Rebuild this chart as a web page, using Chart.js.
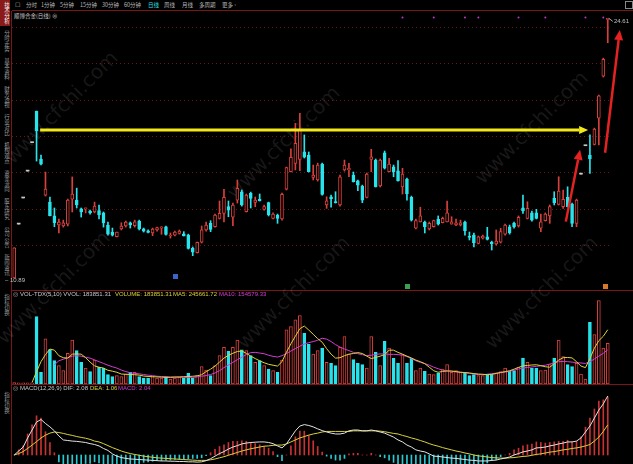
<!DOCTYPE html>
<html>
<head>
<meta charset="utf-8">
<script src="https://cdn.jsdelivr.net/npm/chart.js@4.4.1/dist/chart.umd.min.js"></script>
<style>
  body { margin: 0; background: #000; width: 633px; height: 464px; overflow: hidden; position: relative;
         font-family: "Noto Sans CJK SC", "Noto Sans", sans-serif; color: #b8b8b8; }
  canvas { position: absolute; }
  .t { position: absolute; white-space: nowrap; font-size: 5.5px; line-height: 10px; }
  .h { position: absolute; white-space: nowrap; font-size: 6px; line-height: 9px; font-family: "Liberation Sans", "Noto Sans", sans-serif; }
  .line { position: absolute; background: #7a1616; }
  .side { position: absolute; left: 0; width: 10px; font-size: 5.5px; line-height: 7px; text-align: center;
          writing-mode: vertical-rl; color: #9a9a9a; }
  .wm { position: absolute; font-family: "DejaVu Sans", sans-serif; font-size: 20px; line-height: 24px; color: rgba(255,255,255,0.10);
        transform: rotate(-45deg); transform-origin: left center; white-space: nowrap; }
  .mk { position: absolute; width: 5px; height: 5px; }
</style>
</head>
<body>

<!-- toolbar -->
<div class="t" style="left:15px;top:0px;">☐</div>
<div class="t" style="left:26px;top:0px;">分时</div>
<div class="t" style="left:41px;top:0px;">1分钟</div>
<div class="t" style="left:60px;top:0px;">5分钟</div>
<div class="t" style="left:80px;top:0px;">15分钟</div>
<div class="t" style="left:102px;top:0px;">30分钟</div>
<div class="t" style="left:124px;top:0px;">60分钟</div>
<div class="t" style="left:148px;top:0px;color:#2fe0e8;">日线</div>
<div class="t" style="left:164px;top:0px;">周线</div>
<div class="t" style="left:182px;top:0px;">月线</div>
<div class="t" style="left:199px;top:0px;">多周期</div>
<div class="t" style="left:222px;top:0px;">更多 ›</div>
<div class="line" style="left:12px;top:10px;width:621px;height:1px;"></div>
<div class="t" style="left:14px;top:11px;color:#c8c8c8;">顺博合金(日线) ⊗</div>
<div style="position:absolute;left:625px;top:1px;width:6px;height:6px;border:1px solid #888;"></div>

<!-- side tabs -->
<div class="side" style="top:0;height:26px;background:#8a1a1a;color:#eee;">技术分析</div>
<div class="side" style="top:28px;height:26px;">分时走势</div>
<div class="side" style="top:56px;height:26px;">基本资料</div>
<div class="side" style="top:84px;height:26px;">财务透视</div>
<div class="side" style="top:112px;height:26px;">行业对比</div>
<div class="side" style="top:140px;height:26px;">机构观点</div>
<div class="side" style="top:168px;height:26px;">资金流向</div>
<div class="side" style="top:196px;height:26px;">股东研究</div>
<div class="side" style="top:224px;height:26px;">公司公告</div>
<div class="side" style="top:252px;height:26px;">新闻资讯</div>
<div class="side" style="top:292px;height:26px;">指标切换</div>
<div class="side" style="top:390px;height:26px;">指标切换</div>

<!-- panel borders -->
<div class="line" style="left:11px;top:11px;width:1px;height:453px;"></div>
<div class="line" style="left:12px;top:290px;width:621px;height:1px;"></div>
<div class="line" style="left:12px;top:384px;width:621px;height:1px;"></div>

<!-- watermark -->
<div class="wm" style="left:8px;top:148px;">www.cfchi.com</div>
<div class="wm" style="left:230px;top:183px;">www.cfchi.com</div>
<div class="wm" style="left:478px;top:168px;">www.cfchi.com</div>
<div class="wm" style="left:0px;top:328px;">www.cfchi.com</div>
<div class="wm" style="left:240px;top:333px;">www.cfchi.com</div>
<div class="wm" style="left:488px;top:333px;">www.cfchi.com</div>

<canvas id="kline" width="620" height="268" style="left:12px;top:14px;"></canvas>
<canvas id="vol" width="598" height="88" style="left:12px;top:296px;"></canvas>
<canvas id="macd" width="598" height="72" style="left:12px;top:392px;"></canvas>

<!-- labels -->
<div class="h" style="left:5px;top:276px;color:#c0c0c0;">– 10.89</div>
<div class="h" style="left:614px;top:17px;color:#c0c0c0;">24.61</div>
<div class="mk" style="left:173px;top:274px;background:#3a64c8;"></div>
<div class="mk" style="left:405px;top:284px;background:#3aa050;"></div>
<div class="mk" style="left:603px;top:284px;background:#d8782a;"></div>

<div class="h" style="left:13px;top:290px;color:#aaa;">◎</div>
<div class="h" style="left:20px;top:290px;color:#c8c8c8;">VOL-TDX(5,10) VVOL: 183851.31</div>
<div class="h" style="left:115px;top:290px;color:#dcd43a;">VOLUME: 183851.31</div>
<div class="h" style="left:173px;top:290px;color:#dcd43a;">MA5: 245661.72</div>
<div class="h" style="left:219px;top:290px;color:#d83cd8;">MA10: 154579.33</div>

<div class="h" style="left:13px;top:384px;color:#aaa;">◎</div>
<div class="h" style="left:20px;top:384px;color:#c8c8c8;">MACD(12,26,9) DIF: 2.08</div>
<div class="h" style="left:90px;top:384px;color:#dcd43a;">DEA: 1.06</div>
<div class="h" style="left:118px;top:384px;color:#d83cd8;">MACD: 2.04</div>

<script>
// 日K线 (前5根为上市初期一字板)
const opens = [10.89, 13.74, 15.12, 16.54, 18.04,
  19.71, 17.18, 15.27, 14.90, 14.18, 13.69, 13.64, 13.74, 15.06, 15.01,
  14.54, 14.54, 14.43, 14.38, 14.45, 14.33, 13.69, 13.32, 13.07, 13.48,
  13.64, 13.80, 13.65, 13.90, 13.49, 13.39, 13.27, 13.43, 13.53, 13.60,
  13.11, 13.16, 13.25, 13.23, 13.16, 12.46, 12.23, 12.78, 13.43, 13.78,
  13.60, 14.04, 14.31, 14.66, 14.10, 15.01, 15.45, 14.39, 15.36, 14.89,
  15.05, 14.52, 14.87, 14.04, 14.22, 14.01, 15.58, 16.51, 16.95, 17.16,
  17.56, 17.39, 16.21, 16.07, 16.91, 14.75, 15.18, 14.92, 14.75, 16.60,
  16.60, 16.33, 16.02, 15.75, 15.15, 17.16, 17.12, 15.75, 17.51, 16.51,
  16.77, 16.56, 15.71, 16.12, 15.15, 13.52, 13.86, 13.85, 13.48, 13.60,
  13.99, 13.81, 13.86, 13.74, 13.69, 13.69, 13.85, 13.11, 13.16, 12.72,
  12.99, 13.07, 12.79, 12.69, 12.78, 13.21, 13.60, 13.78, 13.64, 14.60,
  14.04, 14.34, 14.34, 13.52, 13.92, 14.17, 15.10, 14.78, 14.66, 15.15,
  14.80, 13.78, 16.38, 17.88, 17.39, 17.95, 19.33, 21.56, 24.55];
const closes = [12.49, 13.74, 15.12, 16.54, 18.04,
  18.66, 16.91, 15.59, 14.18, 13.81, 13.85, 13.80, 15.01, 15.33, 14.75,
  14.38, 14.59, 14.33, 14.69, 14.23, 13.80, 13.21, 13.16, 13.32, 13.64,
  13.85, 13.69, 13.86, 13.48, 13.36, 13.30, 13.48, 13.55, 13.60, 13.20,
  13.16, 13.32, 13.37, 13.12, 12.46, 12.25, 12.78, 13.43, 13.69, 13.46,
  14.22, 14.31, 15.15, 14.48, 14.75, 15.63, 14.75, 15.27, 15.10, 15.01,
  14.97, 14.66, 14.22, 14.27, 14.04, 15.31, 16.72, 17.27, 18.01, 18.71,
  17.27, 16.51, 16.33, 16.86, 15.31, 14.97, 15.08, 14.87, 16.24, 16.86,
  16.69, 15.98, 15.80, 15.01, 16.38, 17.30, 15.71, 17.12, 16.69, 16.91,
  16.51, 16.03, 16.38, 15.33, 13.95, 13.92, 14.17, 13.60, 13.78, 13.92,
  13.74, 14.04, 14.34, 13.86, 13.81, 13.81, 13.39, 13.04, 12.75, 13.07,
  13.11, 12.93, 12.69, 12.84, 13.34, 13.69, 13.28, 13.60, 14.10, 14.43,
  14.57, 13.95, 14.04, 13.86, 14.27, 14.66, 14.87, 15.49, 15.05, 14.66,
  13.78, 15.01, 16.38, 17.88, 17.18, 18.76, 20.52, 22.44, 24.61];
const highs = [12.49, 13.74, 15.12, 16.54, 18.04,
  19.71, 17.39, 16.49, 15.17, 14.59, 14.01, 13.95, 15.06, 16.23, 15.64,
  14.59, 14.59, 14.48, 14.90, 14.75, 14.38, 13.85, 13.53, 13.32, 13.81,
  13.90, 13.85, 13.95, 13.95, 13.53, 13.43, 13.53, 13.58, 13.60, 13.64,
  13.27, 13.37, 13.43, 13.34, 13.21, 12.53, 12.79, 13.64, 13.85, 13.92,
  14.27, 14.96, 15.58, 14.96, 14.85, 16.07, 15.54, 15.33, 15.43, 15.17,
  15.33, 14.75, 14.90, 14.34, 14.27, 15.38, 16.75, 17.71, 19.06, 19.59,
  18.45, 17.55, 16.86, 16.96, 16.96, 15.18, 15.27, 15.45, 16.33, 17.12,
  16.95, 16.49, 16.07, 15.80, 16.44, 17.69, 17.18, 17.18, 17.60, 17.21,
  16.86, 17.09, 16.69, 16.17, 15.22, 14.01, 14.63, 13.90, 13.85, 13.95,
  14.17, 14.11, 14.96, 14.13, 14.01, 13.95, 13.90, 13.32, 13.27, 13.11,
  13.16, 13.57, 12.84, 13.43, 13.52, 13.74, 13.69, 13.85, 14.17, 15.27,
  14.92, 14.43, 14.52, 14.27, 14.33, 14.75, 15.45, 16.24, 15.54, 15.71,
  14.85, 15.06, 16.38, 17.88, 18.45, 18.81, 20.56, 22.51, 24.61];
const lows = [10.89, 13.74, 15.12, 16.54, 18.04,
  17.07, 16.86, 15.22, 14.17, 13.60, 13.27, 13.58, 13.64, 14.38, 14.59,
  14.11, 14.33, 14.27, 14.33, 14.01, 13.58, 13.16, 13.11, 13.06, 13.43,
  13.58, 13.53, 13.58, 13.43, 13.32, 13.27, 13.13, 13.37, 13.20, 13.16,
  13.00, 13.11, 13.21, 13.11, 12.42, 12.07, 12.21, 12.74, 13.37, 13.34,
  13.58, 14.01, 13.86, 14.13, 13.65, 14.85, 14.69, 14.38, 14.59, 14.66,
  14.96, 14.48, 14.17, 14.01, 13.78, 13.95, 15.54, 16.49, 16.60, 16.56,
  17.23, 16.49, 16.07, 16.01, 15.27, 14.57, 14.63, 14.85, 14.69, 16.54,
  16.24, 15.96, 15.50, 14.87, 15.12, 16.51, 15.70, 15.70, 16.65, 16.49,
  16.24, 16.01, 15.33, 15.01, 13.90, 13.48, 13.85, 13.27, 13.43, 13.58,
  13.69, 13.80, 13.85, 13.74, 13.66, 13.64, 13.16, 12.90, 12.53, 12.69,
  12.95, 12.90, 12.37, 12.63, 12.74, 13.16, 13.21, 13.53, 13.58, 14.31,
  14.01, 13.90, 14.01, 13.34, 13.90, 13.78, 14.75, 14.75, 14.57, 14.64,
  13.60, 13.60, 16.38, 17.88, 16.42, 17.92, 17.92, 21.51, 23.32];

// 成交量 (手)
const volumes = [6000, 5000, 5000, 5000, 5000,
  304700, 52500, 203800, 155300, 105500, 82900, 60200, 138600, 199200, 150800,
  97800, 72400, 55700, 108700, 75200, 72400, 42100, 33100, 37600, 33100,
  45300, 52500, 52500, 33100, 27200, 27200, 33100, 27200, 27200, 33100,
  22600, 27200, 29900, 27200, 48000, 27200, 37600, 78300, 63400, 37600,
  82900, 128100, 165700, 147600, 165700, 199200, 154000, 150800, 128100, 97800,
  105500, 82900, 67900, 60200, 52500, 108700, 244500, 259500, 289800, 309300,
  229100, 181100, 135800, 150800, 163000, 97800, 93300, 82900, 165700, 214200,
  135800, 110000, 93300, 87400, 72400, 214200, 143100, 82900, 192900, 163000,
  115900, 93300, 132700, 93300, 115900, 60200, 72400, 57100, 45300, 42100,
  48000, 67900, 87400, 52500, 60200, 52500, 48000, 37600, 42100, 37600,
  37600, 45300, 42100, 48000, 55700, 72400, 57100, 60200, 75200, 117700,
  97800, 72400, 72400, 60200, 63400, 87400, 117700, 199200, 123600, 87400,
  78300, 93300, 45300, 22600, 278900, 223200, 377200, 163000, 183851];
const volMa5 = [null, null, null, null, 7000,
  56000, 101000, 133000, 158000, 153000, 128000, 119000, 117000, 135000, 136000,
  135000, 119000, 99000, 82000, 76000, 72000, 62000, 58000, 53000, 45000,
  44000, 43000, 42000, 40000, 36000, 34000, 33000, 32000, 31000, 30000,
  30000, 31000, 32000, 33000, 34000, 35000, 37000, 42000, 56000, 67000,
  81000, 99000, 117000, 130000, 139000, 147000, 149000, 139000, 126000, 115000,
  105000, 96000, 89000, 85000, 81000, 101000, 144000, 182000, 216000, 250000,
  262000, 244000, 225000, 205000, 189000, 160000, 135000, 117000, 119000, 128000,
  135000, 138000, 142000, 138000, 126000, 115000, 120000, 126000, 133000, 153000,
  153000, 143000, 135000, 126000, 118000, 108000, 101000, 92000, 76000, 60000,
  53000, 57000, 59000, 59000, 56000, 53000, 52000, 50000, 47000, 45000,
  44000, 42000, 43000, 48000, 52000, 56000, 60000, 67000, 75000, 82000,
  84000, 86000, 87000, 83000, 78000, 76000, 92000, 108000, 119000, 120000,
  118000, 101000, 81000, 74000, 115000, 162000, 196000, 216000, 245662];
const volMa10 = [null, null, null, null, null, null, null, null, null,
  87000, 105000, 112000, 119000, 126000, 128000, 126000, 121000, 117000, 109000,
  101000, 93000, 85000, 78000, 72000, 63000, 56000, 51000, 48000, 46000,
  43000, 40000, 38000, 35000, 34000, 33000, 32000, 32000, 31000, 30000,
  30000, 30000, 32000, 35000, 38000, 43000, 50000, 60000, 74000, 86000,
  98000, 110000, 121000, 133000, 142000, 143000, 140000, 137000, 130000, 125000,
  122000, 128000, 138000, 149000, 160000, 171000, 181000, 187000, 192000, 198000,
  207000, 203000, 192000, 178000, 167000, 158000, 151000, 143000, 137000, 133000,
  128000, 130000, 134000, 136000, 136000, 134000, 134000, 133000, 130000, 124000,
  115000, 105000, 98000, 92000, 85000, 76000, 69000, 62000, 59000, 57000,
  55000, 53000, 51000, 48000, 45000, 43000, 42000, 44000, 47000, 49000,
  51000, 54000, 58000, 62000, 68000, 72000, 75000, 77000, 80000, 82000,
  85000, 90000, 95000, 101000, 102000, 101000, 99000, 97000, 95000, 93000,
  101000, 113000, 126000, 139000, 154579];

// MACD(12,26,9)
const dif = [0, 0.14, 0.28, 0.60, 0.88,
  1.16, 1.25, 1.11, 0.99, 0.85, 0.67, 0.53, 0.51, 0.49, 0.48,
  0.46, 0.44, 0.40, 0.37, 0.32, 0.23, 0.16, 0.04, -0.04, -0.09,
  -0.12, -0.14, -0.15, -0.16, -0.17, -0.18, -0.19, -0.20, -0.21, -0.21,
  -0.22, -0.22, -0.23, -0.23, -0.24, -0.24, -0.25, -0.24, -0.20, -0.13,
  -0.04, 0.05, 0.12, 0.21, 0.28, 0.33, 0.39, 0.42, 0.44, 0.45,
  0.46, 0.46, 0.44, 0.40, 0.32, 0.25, 0.39, 0.62, 0.85, 1.02,
  1.07, 1.04, 0.99, 0.92, 0.86, 0.81, 0.77, 0.74, 0.74, 0.77,
  0.85, 0.88, 0.88, 0.85, 0.85, 0.88, 0.85, 0.81, 0.77, 0.70,
  0.63, 0.53, 0.46, 0.35, 0.28, 0.18, 0.14, 0.11, 0.04, -0.04,
  -0.05, -0.07, -0.09, -0.11, -0.12, -0.14, -0.16, -0.18, -0.19, -0.21,
  -0.21, -0.21, -0.19, -0.18, -0.14, -0.11, -0.07, 0.00, 0.05, 0.11,
  0.14, 0.18, 0.25, 0.26, 0.28, 0.32, 0.35, 0.39, 0.42, 0.46,
  0.46, 0.49, 0.60, 0.81, 1.02, 1.30, 1.58, 1.80, 2.08];
const dea = [0, 0.05, 0.12, 0.23, 0.35,
  0.47, 0.60, 0.70, 0.77, 0.81, 0.79, 0.76, 0.72, 0.69, 0.65,
  0.62, 0.59, 0.55, 0.49, 0.46, 0.40, 0.33, 0.26, 0.20, 0.14,
  0.09, 0.05, 0.02, -0.01, -0.04, -0.06, -0.08, -0.10, -0.11, -0.12,
  -0.13, -0.14, -0.15, -0.16, -0.17, -0.18, -0.19, -0.19, -0.19, -0.17,
  -0.14, -0.10, -0.06, -0.01, 0.04, 0.09, 0.14, 0.18, 0.22, 0.25,
  0.28, 0.31, 0.32, 0.34, 0.35, 0.35, 0.39, 0.46, 0.53, 0.60,
  0.65, 0.70, 0.74, 0.77, 0.81, 0.83, 0.83, 0.83, 0.83, 0.83,
  0.83, 0.85, 0.85, 0.85, 0.85, 0.85, 0.85, 0.84, 0.82, 0.79,
  0.76, 0.74, 0.69, 0.65, 0.60, 0.56, 0.51, 0.46, 0.40, 0.35,
  0.31, 0.26, 0.22, 0.18, 0.14, 0.11, 0.07, 0.04, 0.00, -0.03,
  -0.05, -0.07, -0.09, -0.10, -0.11, -0.11, -0.10, -0.09, -0.07, -0.05,
  -0.04, -0.01, 0.02, 0.04, 0.07, 0.10, 0.12, 0.15, 0.18, 0.20,
  0.23, 0.25, 0.28, 0.32, 0.37, 0.49, 0.63, 0.83, 1.06];
const macdHist = [0, 0.18, 0.32, 0.74, 1.06,
  1.38, 1.30, 0.82, 0.44, 0.08, -0.24, -0.46, -0.42, -0.40, -0.34,
  -0.32, -0.30, -0.30, -0.24, -0.28, -0.34, -0.34, -0.44, -0.48, -0.46,
  -0.42, -0.38, -0.34, -0.30, -0.26, -0.24, -0.22, -0.20, -0.20, -0.18,
  -0.18, -0.16, -0.16, -0.14, -0.14, -0.12, -0.12, -0.10, -0.02, 0.08,
  0.20, 0.30, 0.36, 0.44, 0.48, 0.48, 0.50, 0.48, 0.44, 0.40,
  0.36, 0.30, 0.24, 0.12, -0.06, -0.20, 0, 0.32, 0.64, 0.84,
  0.84, 0.68, 0.50, 0.30, 0.10, -0.04, -0.12, -0.18, -0.18, -0.12,
  0.04, 0.06, 0.06, 0, 0, 0.06, 0, -0.06, -0.10, -0.18,
  -0.26, -0.42, -0.46, -0.60, -0.64, -0.76, -0.74, -0.70, -0.72, -0.78,
  -0.72, -0.66, -0.62, -0.58, -0.52, -0.50, -0.46, -0.44, -0.38, -0.36,
  -0.32, -0.28, -0.20, -0.16, -0.06, 0, 0.06, 0.18, 0.24, 0.32,
  0.36, 0.38, 0.46, 0.44, 0.42, 0.44, 0.46, 0.48, 0.48, 0.52,
  0.46, 0.48, 0.64, 0.98, 1.30, 1.62, 1.90, 1.94, 2.04];

// 顶部信号点 (K线索引)
const signalIdx = [87, 94, 101, 104, 113, 119, 128, 132];
// 标注: 黄色水平箭头, 两个红色箭头 (索引, 价格)
const yellowArrow = { from: [5.8, 18.71], to: [128.6, 18.71] };
const redArrows = [
  { from: [123.6, 13.87], to: [126.8, 17.67] },
  { from: [132.4, 17.51], to: [135.7, 23.99] }
];
// 价格网格线
const priceGrid = [24.13, 22.21, 20.29, 18.37, 16.44, 14.53, 12.63];

const RED = '#d8403c';
const CYAN = '#28e4ec';
const FLAT = '#c8c8c8';
const labels = opens.map((_, i) => String(i + 1));
const upDay = closes.map((c, i) => c >= opens[i]);
const flatDay = closes.map((c, i) => c === opens[i] && highs[i] === lows[i]);
const candleColor = upDay.map((u, i) => flatDay[i] ? FLAT : (u ? RED : CYAN));

const baseOpts = {
  animation: false,
  responsive: false,
  events: [],
  layout: { padding: 0, autoPadding: false },
  plugins: { legend: { display: false }, tooltip: { enabled: false } }
};

function drawArrow(ctx, x1, y1, x2, y2, color, width, head) {
  const ang = Math.atan2(y2 - y1, x2 - x1);
  const bx = x2 - head * Math.cos(ang), by = y2 - head * Math.sin(ang);
  ctx.save();
  ctx.strokeStyle = color; ctx.fillStyle = color; ctx.lineWidth = width;
  ctx.beginPath(); ctx.moveTo(x1, y1); ctx.lineTo(bx, by); ctx.stroke();
  ctx.beginPath();
  ctx.moveTo(x2, y2);
  ctx.lineTo(bx + head * 0.45 * Math.sin(ang), by - head * 0.45 * Math.cos(ang));
  ctx.lineTo(bx - head * 0.45 * Math.sin(ang), by + head * 0.45 * Math.cos(ang));
  ctx.closePath(); ctx.fill();
  ctx.restore();
}

const arrowPlugin = {
  id: 'arrows',
  afterDatasetsDraw(chart) {
    const { ctx, scales: { x, y } } = chart;
    const pt = p => [x.getPixelForValue(p[0]), y.getPixelForValue(p[1])];
    let a = pt(yellowArrow.from), b = pt(yellowArrow.to);
    drawArrow(ctx, a[0], a[1], b[0], b[1], '#f2e81a', 3, 9);
    redArrows.forEach(r => {
      a = pt(r.from); b = pt(r.to);
      drawArrow(ctx, a[0], a[1], b[0], b[1], '#e42222', 2.5, 10);
    });
    // 最高价引线
    const hi = highs.indexOf(Math.max(...highs));
    ctx.save();
    ctx.strokeStyle = '#aaaaaa'; ctx.lineWidth = 1;
    ctx.beginPath();
    ctx.moveTo(x.getPixelForValue(hi) + 1, y.getPixelForValue(highs[hi]));
    ctx.lineTo(x.getPixelForValue(hi) + 5, y.getPixelForValue(highs[hi]) + 3);
    ctx.stroke();
    ctx.restore();
  }
};

// K线
new Chart(document.getElementById('kline'), {
  type: 'bar',
  data: {
    labels: labels,
    datasets: [{
      data: opens.map((o, i) => [o, closes[i]]),
      backgroundColor: upDay.map((u, i) => flatDay[i] ? FLAT : (u ? '#000' : CYAN)),
      borderColor: candleColor,
      borderWidth: upDay.map((u, i) => flatDay[i] ? 0 : 1),
      borderSkipped: false,
      barThickness: 3,
      minBarLength: 1,
      grouped: false
    }, {
      data: lows.map((l, i) => [l, highs[i]]),
      backgroundColor: candleColor,
      barThickness: 1,
      grouped: false
    }, {
      type: 'line',
      data: labels.map((_, i) => signalIdx.includes(i) ? 24.66 : null),
      showLine: false,
      pointRadius: 1,
      pointBorderWidth: 0,
      pointBackgroundColor: '#c038c0'
    }]
  },
  options: {
    ...baseOpts,
    layout: { padding: { right: 22 }, autoPadding: false },
    scales: {
      x: { display: false, offset: true },
      y: {
        min: 10.68, max: 24.84,
        afterBuildTicks: s => { s.ticks = priceGrid.map(v => ({ value: v })); },
        ticks: { display: false },
        grid: { color: 'rgba(140,30,30,0.75)', drawTicks: false, lineWidth: 1 },
        border: { display: false, dash: [1, 3] }
      }
    }
  },
  plugins: [arrowPlugin]
});

// 成交量
new Chart(document.getElementById('vol'), {
  type: 'bar',
  data: {
    labels: labels,
    datasets: [{
      type: 'line', data: volMa5, borderColor: '#dcd43a', borderWidth: 1, pointRadius: 0
    }, {
      type: 'line', data: volMa10, borderColor: '#d23cd2', borderWidth: 1, pointRadius: 0
    }, {
      data: volumes,
      backgroundColor: upDay.map(u => u ? '#000' : CYAN),
      borderColor: upDay.map(u => u ? RED : CYAN),
      borderWidth: 1,
      borderSkipped: false,
      barThickness: 3,
      grouped: false
    }]
  },
  options: {
    ...baseOpts,
    scales: {
      x: { display: false, offset: true },
      y: { display: false, min: 0, max: 398000 }
    }
  }
});

// MACD
new Chart(document.getElementById('macd'), {
  type: 'bar',
  data: {
    labels: labels,
    datasets: [{
      type: 'line', data: dif, borderColor: '#e4e4e4', borderWidth: 1, pointRadius: 0
    }, {
      type: 'line', data: dea, borderColor: '#d8d23a', borderWidth: 1, pointRadius: 0
    }, {
      data: macdHist,
      backgroundColor: macdHist.map(v => v >= 0 ? '#c83232' : '#2ac8d0'),
      barThickness: 1,
      grouped: false
    }]
  },
  options: {
    ...baseOpts,
    scales: {
      x: { display: false, offset: true },
      y: { display: false, min: -0.317, max: 2.218 }
    }
  }
});
</script>
</body>
</html>
